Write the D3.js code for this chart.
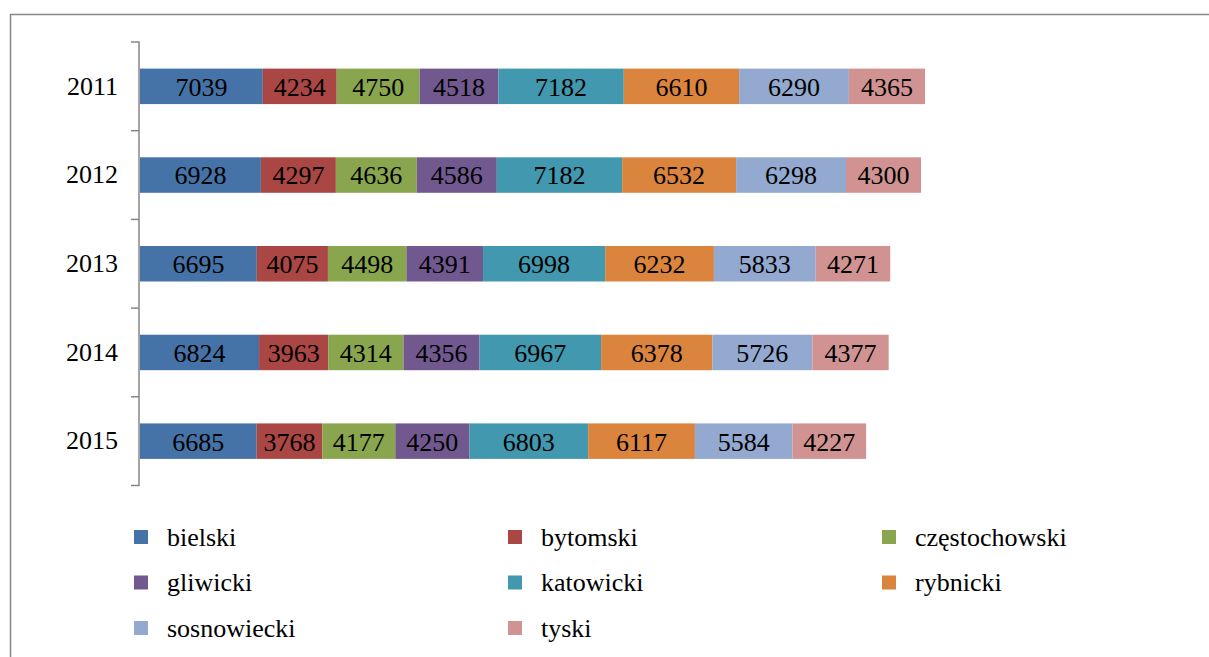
<!DOCTYPE html>
<html>
<head>
<meta charset="utf-8">
<script src="https://cdn.jsdelivr.net/npm/d3@7"></script>
<style>
  body { margin: 0; background: #fff; }
  svg { display: block; }
  svg text { font-family: 'Liberation Serif', 'Times New Roman', Times, 'DejaVu Serif', serif; }
</style>
</head>
<body>
<div class="chart"></div>
<script>
// data
const years = ['2011', '2012', '2013', '2014', '2015'];
const seriesNames = ['bielski', 'bytomski', 'częstochowski', 'gliwicki', 'katowicki', 'rybnicki', 'sosnowiecki', 'tyski'];
const bielski = [7039, 6928, 6695, 6824, 6685];
const bytomski = [4234, 4297, 4075, 3963, 3768];
const czestochowski = [4750, 4636, 4498, 4314, 4177];
const gliwicki = [4518, 4586, 4391, 4356, 4250];
const katowicki = [7182, 7182, 6998, 6967, 6803];
const rybnicki = [6610, 6532, 6232, 6378, 6117];
const sosnowiecki = [6290, 6298, 5833, 5726, 5584];
const tyski = [4365, 4300, 4271, 4377, 4227];
const colors = ['#4572A7', '#AA4643', '#89A54E', '#71588F', '#4198AF', '#DB843D', '#93A9CF', '#D19392'];

const seriesValues = [bielski, bytomski, czestochowski, gliwicki, katowicki, rybnicki, sosnowiecki, tyski];

let width = 1209;
let height = 657;

let svg = d3.select('.chart')
  .append('svg')
  .attr('width', width)
  .attr('height', height);

// outer chart border (runs off the right/bottom edge)
svg.append('rect')
  .attr('x', 10.5)
  .attr('y', 14.5)
  .attr('width', 1400)
  .attr('height', 800)
  .attr('fill', 'none')
  .attr('stroke', '#878787')
  .attr('stroke-width', 1.5);

// rows for the stack
let rows = years.map(function(y, i) {
  let r = { year: y };
  seriesNames.forEach(function(s, j) { r[s] = seriesValues[j][i]; });
  return r;
});

let stacked = d3.stack().keys(seriesNames)(rows);

let xScale = d3.scaleLinear()
  .domain([0, 50000])
  .range([140, 1012.5]);

let yScale = d3.scaleBand()
  .domain(years)
  .range([42, 485.5])
  .paddingInner(0.6)
  .paddingOuter(0.3);

let yBand = d3.scaleBand().domain(years).range([42, 485.5]);

// bars
let layer = svg.append('g')
  .selectAll('g')
  .data(stacked)
  .enter().append('g')
  .attr('fill', function(d, i) { return colors[i]; });

layer.selectAll('rect')
  .data(function(d) { return d; })
  .enter().append('rect')
  .attr('x', function(d) { return xScale(d[0]); })
  .attr('y', function(d) { return yScale(d.data.year); })
  .attr('width', function(d) { return xScale(d[1]) - xScale(d[0]); })
  .attr('height', yScale.bandwidth());

layer.selectAll('text')
  .data(function(d) { return d; })
  .enter().append('text')
  .attr('x', function(d) { return (xScale(d[0]) + xScale(d[1])) / 2; })
  .attr('y', function(d) { return yScale(d.data.year) + yScale.bandwidth() / 2; })
  .attr('dy', '0.36em')
  .attr('text-anchor', 'middle')
  .attr('fill', '#000')
  .style('font-size', '26px')
  .text(function(d) { return d[1] - d[0]; });

// y axis
let axis = svg.append('g')
  .attr('transform', 'translate(139, 0)')
  .call(d3.axisLeft(yBand).tickSize(0).tickPadding(21));

axis.attr('font-family', null);

axis.select('.domain')
  .attr('stroke', '#878787')
  .attr('stroke-width', 1.5)
  .attr('d', 'M-8,42H0V485.5H-8');

axis.selectAll('.tick text')
  .style('font-size', '26px')
  .attr('fill', '#000');

// category boundary ticks
svg.append('g')
  .selectAll('line')
  .data(years.slice(1))
  .enter().append('line')
  .attr('x1', 131)
  .attr('x2', 139)
  .attr('y1', function(d) { return yBand(d); })
  .attr('y2', function(d) { return yBand(d); })
  .attr('stroke', '#878787')
  .attr('stroke-width', 1.5);

// legend
let legendCols = [134, 508, 882];
let legend = svg.append('g')
  .selectAll('g')
  .data(seriesNames)
  .enter().append('g')
  .attr('transform', function(d, i) {
    return 'translate(' + legendCols[i % 3] + ',' + (537 + Math.floor(i / 3) * 45.5) + ')';
  });

legend.append('rect')
  .attr('x', 0)
  .attr('y', -7)
  .attr('width', 14)
  .attr('height', 14)
  .attr('fill', function(d, i) { return colors[i]; });

legend.append('text')
  .attr('x', 33)
  .attr('dy', '0.33em')
  .style('font-size', '26px')
  .text(function(d) { return d; });
</script>
</body>
</html>
